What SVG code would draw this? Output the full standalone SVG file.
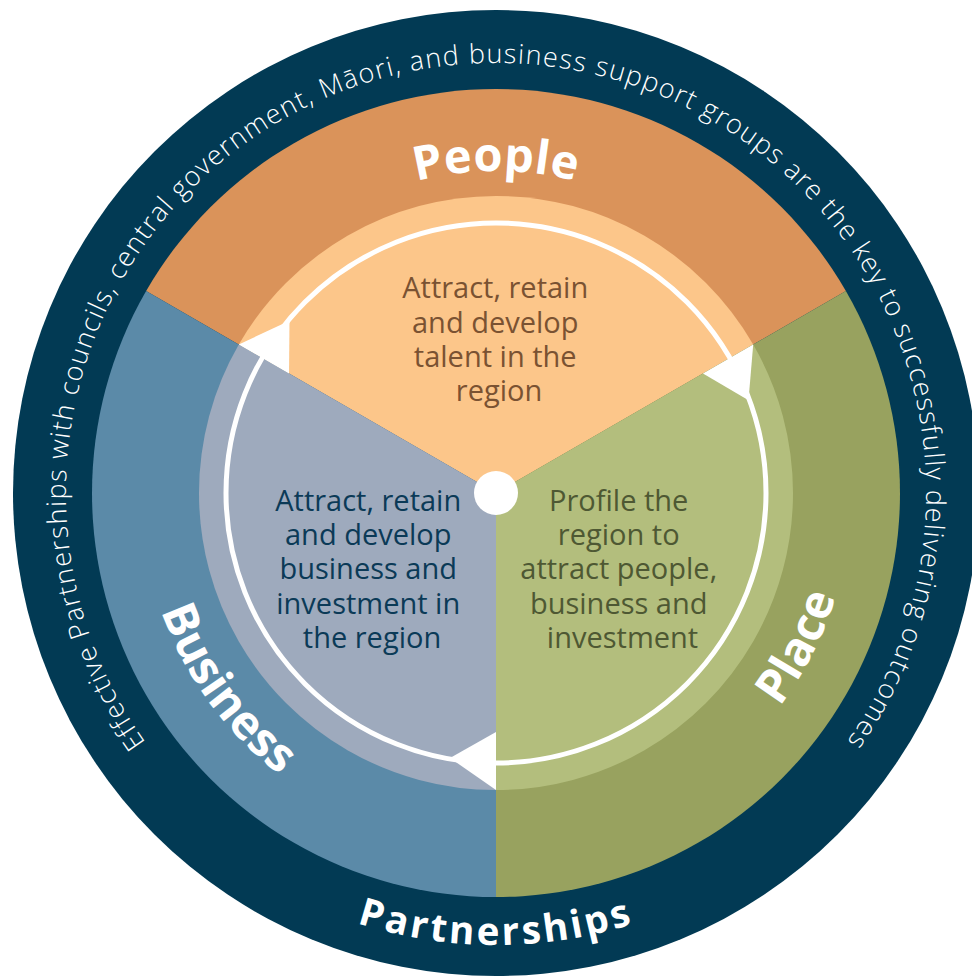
<svg xmlns="http://www.w3.org/2000/svg" xmlns:xlink="http://www.w3.org/1999/xlink" width="972" height="976" viewBox="0 0 972 976">
  <style>
    .ring { fill: #023a54; }
    .ringtxt { font-family: "Open Sans", "Liberation Sans", sans-serif; font-weight: 300; font-size: 27px; letter-spacing: 1.3px; fill: #ffffff; }
    .big { font-family: "Open Sans", "Liberation Sans", sans-serif; font-weight: 700; font-size: 47px; fill: #ffffff; }
    .inner { font-family: "Open Sans", "Liberation Sans", sans-serif; font-weight: 400; font-size: 29px; text-anchor: middle; }
    .arrow { fill: #ffffff; }
  </style>
  <defs>
    <path id="ringPath" d="M496,923 A430,430 0 1 1 496,63 A430,430 0 1 1 496,923"/>
    <path id="partPath" d="M44,493 A452,452 0 0 0 948,493"/>
    <path id="peoplePath" d="M174,493 A322,322 0 0 1 818,493"/>
    <path id="lowerPath" d="M496,848 A355,355 0 1 0 496,138 A355,355 0 1 0 496,848"/>
    <polygon id="tri" points="0,239 0,297 -46,265"/>
  </defs>
  <rect width="972" height="976" fill="#ffffff"/>

  <g id="partnerships">
    <circle class="ring" cx="496" cy="493" r="483"/>
    <text class="ringtxt" text-anchor="middle"><textPath xlink:href="#ringPath" href="#ringPath" startOffset="50%">Effective Partnerships with councils, central government, Māori, and business support groups are the key to successfully delivering outcomes</textPath></text>
    <text class="big" letter-spacing="3" text-anchor="middle" style="font-size:38.5px"><textPath xlink:href="#partPath" href="#partPath" startOffset="50%">Partnerships</textPath></text>
  </g>

  <g id="people">
    <path d="M496,493 L146.13,291 A404,404 0 0 1 845.87,291 Z" fill="#da935a"/>
    <path d="M496,493 L238.79,344.5 A297,297 0 0 1 753.21,344.5 Z" fill="#fcc68a"/>
    <text class="big" text-anchor="middle" letter-spacing="0.5"><textPath xlink:href="#peoplePath" href="#peoplePath" startOffset="50%">People</textPath></text>
    <text class="inner" fill="#7a5232">
      <tspan x="499" y="298">Attract, retain</tspan>
      <tspan x="499" y="333">and develop</tspan>
      <tspan x="499" y="367">talent in the</tspan>
      <tspan x="499" y="401">region</tspan>
    </text>
  </g>

  <g id="place">
    <path d="M496,493 L845.87,291 A404,404 0 0 1 496,897 Z" fill="#98a25f"/>
    <path d="M496,493 L753.21,344.5 A297,297 0 0 1 496,790 Z" fill="#b3be7d"/>
    <text class="big" text-anchor="middle"><textPath xlink:href="#lowerPath" href="#lowerPath" startOffset="17.5%">Place</textPath></text>
    <text class="inner" fill="#4e5833">
      <tspan x="622.5" y="511">Profile the</tspan>
      <tspan x="622.5" y="545">region to</tspan>
      <tspan x="622.5" y="579">attract people,</tspan>
      <tspan x="622.5" y="614">business and</tspan>
      <tspan x="622.5" y="648">investment</tspan>
    </text>
  </g>

  <g id="business">
    <path d="M496,493 L496,897 A404,404 0 0 1 146.13,291 Z" fill="#5b8aa8"/>
    <path d="M496,493 L496,790 A297,297 0 0 1 238.79,344.5 Z" fill="#9eaabd"/>
    <text class="big" text-anchor="middle"><textPath xlink:href="#lowerPath" href="#lowerPath" startOffset="85%">Business</textPath></text>
    <text class="inner" fill="#0b3a57">
      <tspan x="372" y="511">Attract, retain</tspan>
      <tspan x="372" y="545">and develop</tspan>
      <tspan x="372" y="579">business and</tspan>
      <tspan x="372" y="614">investment in</tspan>
      <tspan x="372" y="648">the region</tspan>
    </text>
  </g>

  <g id="connectors">
    <circle cx="496" cy="493" r="270" fill="none" stroke="#ffffff" stroke-width="5"/>
    <use xlink:href="#tri" href="#tri" class="arrow" transform="translate(496,493)"/>
    <use xlink:href="#tri" href="#tri" class="arrow" transform="translate(496,493) rotate(120)"/>
    <use xlink:href="#tri" href="#tri" class="arrow" transform="translate(496,493) rotate(240)"/>
  </g>

  <g id="hub">
    <circle cx="496" cy="493" r="22" fill="#ffffff"/>
  </g>
</svg>
